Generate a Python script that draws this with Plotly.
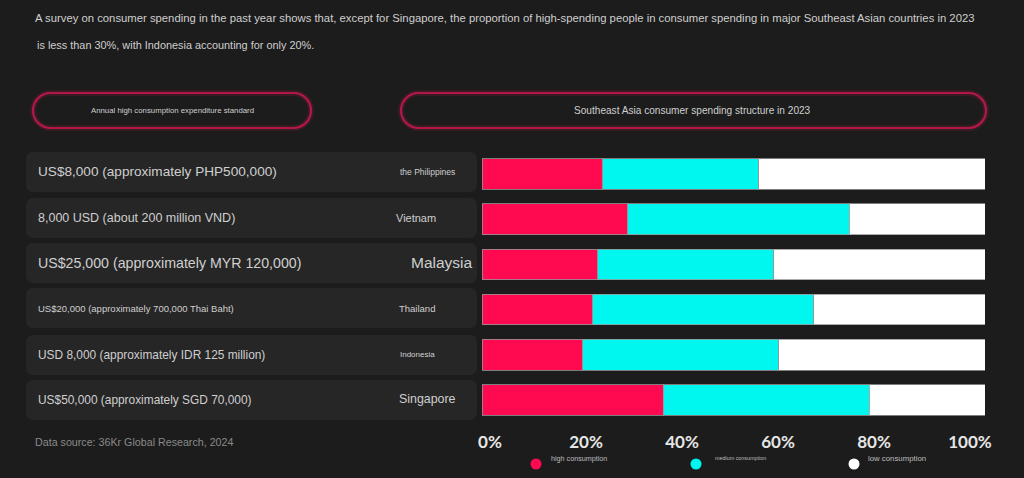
import plotly.graph_objects as go

W, H = 1024, 478

# ---------------- data ----------------
countries = ["the Philippines", "Vietnam", "Malaysia", "Thailand", "Indonesia", "Singapore"]
standards = [
    "US$8,000 (approximately PHP500,000)",
    "8,000 USD (about 200 million VND)",
    "US$25,000 (approximately MYR 120,000)",
    "US$20,000 (approximately 700,000 Thai Baht)",
    "USD 8,000 (approximately IDR 125 million)",
    "US$50,000 (approximately SGD 70,000)",
]
high_consumption = [24, 29, 23, 22, 20, 36]
medium_consumption = [31, 44, 35, 44, 39, 41]
low_consumption = [45, 27, 42, 34, 41, 23]
series_names = ["high consumption", "medium consumption", "low consumption"]
tick_values = [0, 20, 40, 60, 80, 100]
tick_labels = ["0%", "20%", "40%", "60%", "80%", "100%"]

# ---------------- styles ----------------
BG = "#1c1c1c"
BOX = "#262626"
RED = "#ff0a50"
CYAN = "#00f7ef"
WHITE = "#ffffff"
PILL = "#b01848"
TXT = "#cfcfcf"
FONT = "Liberation Sans, Arial"
colors = [RED, CYAN, WHITE]
country_sizes = [8.5, 11, 15.5, 9.5, 8, 12.4]
country_cx = [427, 416, 442, 417, 417, 427]
standard_sizes = [13.6, 12.5, 14.2, 9.5, 11.9, 11.9]
standard_cy = [172, 218, 263, 308, 355, 400]
country_cy = [172, 218, 262, 308, 354, 399]


def px(x):
    return x / W


def py(y):
    return 1 - y / H


def rounded_rect(x0, y0, x1, y1, r):
    # pixel coords (top-left origin) -> paper path with cubic-bezier corners
    k = 0.5523 * r
    pts = [
        f"M{px(x0 + r)},{py(y0)}",
        f"L{px(x1 - r)},{py(y0)}",
        f"C{px(x1 - r + k)},{py(y0)} {px(x1)},{py(y0 + r - k)} {px(x1)},{py(y0 + r)}",
        f"L{px(x1)},{py(y1 - r)}",
        f"C{px(x1)},{py(y1 - r + k)} {px(x1 - r + k)},{py(y1)} {px(x1 - r)},{py(y1)}",
        f"L{px(x0 + r)},{py(y1)}",
        f"C{px(x0 + r - k)},{py(y1)} {px(x0)},{py(y1 - r + k)} {px(x0)},{py(y1 - r)}",
        f"L{px(x0)},{py(y0 + r)}",
        f"C{px(x0)},{py(y0 + r - k)} {px(x0 + r - k)},{py(y0)} {px(x0 + r)},{py(y0)}",
        "Z",
    ]
    return " ".join(pts)


def note(text, x, y, size, color=TXT, xanchor="left"):
    return dict(text=text, x=px(x), y=py(y), xref="paper", yref="paper",
                xanchor=xanchor, yanchor="middle", showarrow=False,
                font=dict(size=size, color=color, family=FONT))


fig = go.Figure()

for name, vals, col in zip(series_names, [high_consumption, medium_consumption, low_consumption], colors):
    fig.add_trace(go.Bar(
        y=countries, x=vals, name=name, orientation="h",
        marker=dict(color=col, line=dict(color="rgba(150,150,150,0.8)", width=1)),
        width=0.68, showlegend=False, hoverinfo="x+y+name",
    ))

# invisible trace to carry the percentage axis
fig.add_trace(go.Scatter(x=[], y=[], xaxis="x2", yaxis="y2", showlegend=False, hoverinfo="skip"))

shapes = []
# row boxes
for cy in standard_cy:
    shapes.append(dict(type="path", xref="paper", yref="paper",
                       path=rounded_rect(26, cy - 20, 477, cy + 20, 7),
                       fillcolor=BOX, line=dict(width=0), layer="below"))
# header pills (glow + stroke)
for (x0, x1) in [(33, 311), (401, 986)]:
    for w, c in [(6, "rgba(200,30,80,0.18)"), (2.2, PILL)]:
        shapes.append(dict(type="path", xref="paper", yref="paper",
                           path=rounded_rect(x0, 93, x1, 128, 17.5),
                           fillcolor="rgba(0,0,0,0)", line=dict(color=c, width=w), layer="below"))
# legend dots
for cx, col in zip([536, 696, 854], colors):
    shapes.append(dict(type="circle", xref="paper", yref="paper",
                       x0=px(cx - 5.5), x1=px(cx + 5.5), y0=py(464 + 5.5), y1=py(464 - 5.5),
                       fillcolor=col, line=dict(width=0)))

annotations = [
    note("A survey on consumer spending in the past year shows that, except for Singapore, the proportion of high-spending people in consumer spending in major Southeast Asian countries in 2023",
         33, 18, 11.3),
    note("is less than 30%, with Indonesia accounting for only 20%.", 35, 45, 10.9),
    note("Annual high consumption expenditure standard", 172, 110, 7.8, xanchor="center"),
    note("Southeast Asia consumer spending structure in 2023", 692, 110, 10.1, xanchor="center"),
    note("Data source: 36Kr Global Research, 2024", 33, 442, 10.7, color="#8a8a8a"),
]
for i, (c, s) in enumerate(zip(countries, standards)):
    annotations.append(note(s, 36, standard_cy[i], standard_sizes[i]))
    annotations.append(note(c, country_cx[i], country_cy[i], country_sizes[i], xanchor="center"))
for lx, name, fs in zip([549, 713, 866], series_names, [7.2, 5.4, 7.8]):
    annotations.append(note(name, lx, 458, fs, color="#bdbdbd"))

fig.update_layout(
    width=W, height=H,
    margin=dict(l=0, r=0, t=0, b=0, pad=0, autoexpand=False),
    paper_bgcolor=BG, plot_bgcolor=BG,
    barmode="stack",
    xaxis=dict(domain=[px(482), px(985)], range=[0, 100], showgrid=False, zeroline=False,
               showticklabels=False, automargin=False, fixedrange=True),
    yaxis=dict(domain=[py(422.6), py(151.4)], autorange="reversed", showgrid=False,
               showticklabels=False, zeroline=False, automargin=False),
    xaxis2=dict(domain=[px(490), px(970)], range=[0, 100], anchor="free", position=py(430),
                tickvals=tick_values, ticktext=tick_labels, showgrid=False, zeroline=False,
                showline=False, ticks="", automargin=False,
                tickfont=dict(size=17, color="#e6e6e6", family="Lato", weight="bold")),
    yaxis2=dict(domain=[0, 0.02], visible=False, anchor="x2", automargin=False),
    shapes=shapes,
    annotations=annotations,
    font=dict(family=FONT),
)

fig.write_html("out.html")
